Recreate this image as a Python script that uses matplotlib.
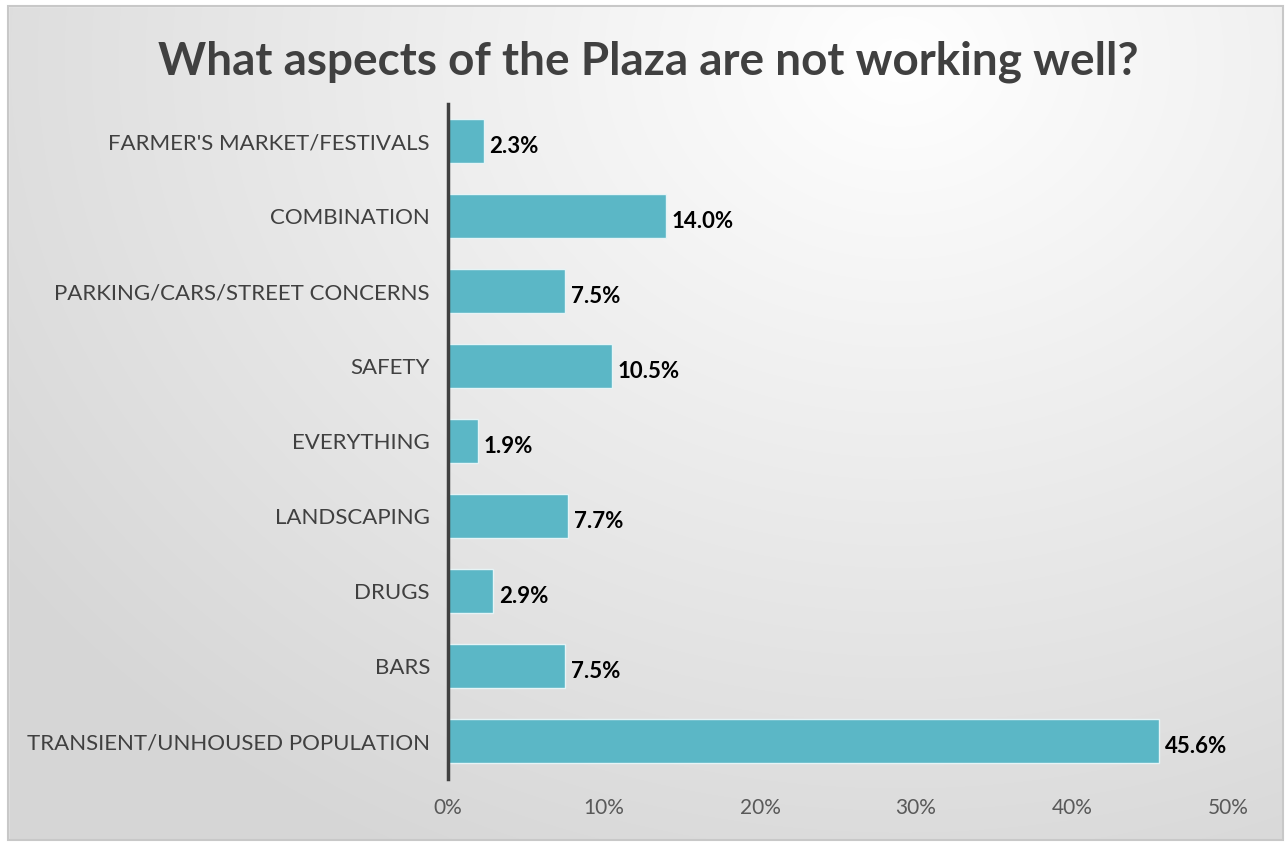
import numpy as np
import matplotlib.pyplot as plt
from matplotlib.patches import Rectangle
from matplotlib.ticker import FuncFormatter

categories = ["FARMER'S MARKET/FESTIVALS", "COMBINATION", "PARKING/CARS/STREET CONCERNS",
              "SAFETY", "EVERYTHING", "LANDSCAPING", "DRUGS", "BARS",
              "TRANSIENT/UNHOUSED POPULATION"]
values = [2.3, 14.0, 7.5, 10.5, 1.9, 7.7, 2.9, 7.5, 45.6]
xticks = [0, 10, 20, 30, 40, 50]

plt.rcParams['font.family'] = ['Lato', 'DejaVu Sans']

W, H = 1285, 844
fig = plt.figure(figsize=(W / 100, H / 100), dpi=100)

# radial gradient background inside the chart frame
bg = fig.add_axes([0, 0, 1, 1], zorder=-10)
yy, xx = np.mgrid[0:H, 0:W]
r = np.sqrt(((xx - 900) / 1100.0) ** 2 + ((yy - 60) / 900.0) ** 2)
shade = 1.0 - 0.16 * np.clip(r, 0, 1.0)
img = np.dstack([shade, shade, shade])
bg.imshow(img, extent=[0, W, H, 0], aspect='auto')
bg.add_patch(Rectangle((0, 0), 8, H, color='white', zorder=2))
bg.add_patch(Rectangle((1283, 0), 10, H, color='white', zorder=2))
bg.add_patch(Rectangle((0, 0), W, 6, color='white', zorder=2))
bg.add_patch(Rectangle((0, 840), W, 10, color='white', zorder=2))
bg.add_patch(Rectangle((8, 6), 1275, 834, fill=False, ec='#c8c8c8', lw=1.5, zorder=3))
bg.set_xlim(0, W)
bg.set_ylim(H, 0)
bg.axis('off')

left, right, top, bottom = 448, 1228, 103.5, 778.5
ax = fig.add_axes([left / W, 1 - bottom / H, (right - left) / W, (bottom - top) / H])
ax.patch.set_alpha(0)

y = np.arange(len(categories))
ax.barh(y, values, height=0.59, color='#5bb7c6', edgecolor='#e6f4f6', linewidth=1)
for yi, v in zip(y, values):
    ax.annotate(f"{v:.1f}%", (v, yi), xytext=(4, -4), textcoords='offset points',
                ha='left', va='center', fontsize=16, fontweight='bold', color='black')

ax.set_ylim(len(categories) - 0.5, -0.5)
ax.set_xlim(0, 50)
ax.set_yticks(y)
ax.set_yticklabels(categories, fontsize=16, color='#404040')
ax.set_xticks(xticks)
ax.xaxis.set_major_formatter(FuncFormatter(lambda v, p: f"{v:.0f}%"))
ax.tick_params(axis='x', length=0, pad=14, labelsize=15, labelcolor='#595959')
ax.tick_params(axis='y', length=0, pad=13)
for s in ['top', 'right', 'bottom']:
    ax.spines[s].set_visible(False)
ax.spines['left'].set_color('#404040')
ax.spines['left'].set_linewidth(2.5)

fig.text(648 / W, 1 - 62 / H, "What aspects of the Plaza are not working well?",
         ha='center', va='center', fontsize=33, fontweight='bold', color='#404040')

fig.savefig('out.png', dpi=100)
